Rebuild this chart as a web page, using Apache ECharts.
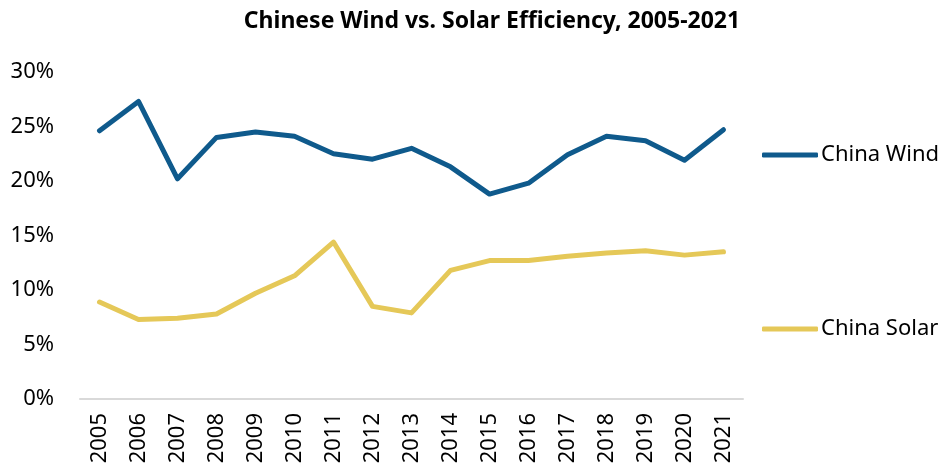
<!DOCTYPE html>
<html>
<head>
<meta charset="utf-8">
<script src="https://cdn.jsdelivr.net/npm/echarts@6/dist/echarts.min.js"></script>
<style>
  html, body { margin: 0; padding: 0; background: #ffffff; }
  #chart { width: 943px; height: 469px; }
</style>
</head>
<body>
<div id="chart"></div>
<script>
  // 年份 / 数据
  var years = ['2005','2006','2007','2008','2009','2010','2011','2012','2013','2014','2015','2016','2017','2018','2019','2020','2021'];
  var windData = [24.6, 27.3, 20.2, 24.0, 24.5, 24.1, 22.5, 22.0, 23.0, 21.3, 18.8, 19.8, 22.4, 24.1, 23.7, 21.9, 24.7];
  var solarData = [8.9, 7.3, 7.4, 7.8, 9.7, 11.3, 14.4, 8.5, 7.9, 11.8, 12.7, 12.7, 13.1, 13.4, 13.6, 13.2, 13.5];
  var yTicks = [0, 5, 10, 15, 20, 25, 30];

  var font = 'Noto Sans';
  var chart = echarts.init(document.getElementById('chart'));
  chart.setOption({
    animation: false,
    backgroundColor: '#ffffff',
    title: {
      text: 'Chinese Wind vs. Solar Efficiency, 2005-2021',
      left: 487,
      top: 5,
      textAlign: 'center',
      textStyle: { fontFamily: font, fontSize: 23, fontWeight: 'bold', color: '#000000' }
    },
    legend: [
      {
        data: ['China Wind'],
        left: 757,
        top: 139,
        icon: 'roundRect',
        itemWidth: 56,
        itemHeight: 5,
        itemGap: 4,
        textStyle: { fontFamily: font, fontSize: 22, color: '#000000', padding: [0, 0, 0, -2] }
      },
      {
        data: ['China Solar'],
        left: 757,
        top: 313,
        icon: 'roundRect',
        itemWidth: 56,
        itemHeight: 5,
        textStyle: { fontFamily: font, fontSize: 22, color: '#000000', padding: [0, 0, 0, -2] }
      }
    ],
    grid: { left: 80, right: 200, top: 72, bottom: 70, containLabel: false },
    xAxis: {
      type: 'category',
      data: years,
      boundaryGap: true,
      axisLine: { lineStyle: { color: '#d9d9d9', width: 2 } },
      axisTick: { show: false },
      axisLabel: { rotate: 90, margin: 14, fontFamily: font, fontSize: 22, color: '#000000' }
    },
    yAxis: {
      type: 'value',
      min: yTicks[0],
      max: yTicks[yTicks.length - 1],
      interval: 5,
      splitLine: { show: false },
      axisLine: { show: false },
      axisTick: { show: false },
      axisLabel: { margin: 26, fontFamily: font, fontSize: 22, color: '#000000', formatter: '{value}%' }
    },
    series: [
      {
        name: 'China Wind',
        type: 'line',
        data: windData,
        symbol: 'none',
        color: '#0f5a8c',
        lineStyle: { width: 5, color: '#0f5a8c', cap: 'round', join: 'round' }
      },
      {
        name: 'China Solar',
        type: 'line',
        data: solarData,
        symbol: 'none',
        color: '#e5c858',
        lineStyle: { width: 5, color: '#e5c858', cap: 'round', join: 'round' }
      }
    ]
  });
</script>
</body>
</html>
